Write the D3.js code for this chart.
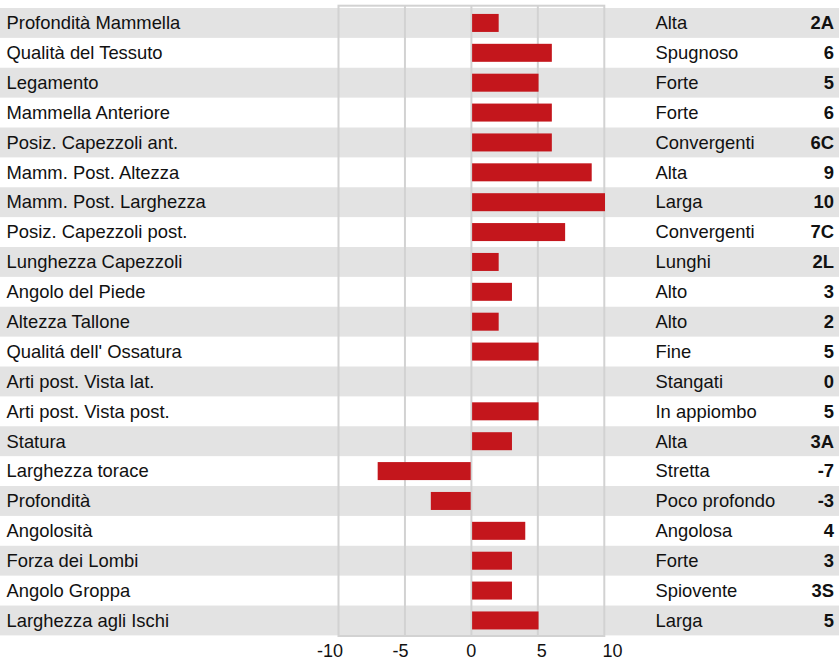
<!DOCTYPE html>
<html>
<head>
<meta charset="utf-8">
<script src="https://cdn.jsdelivr.net/npm/d3@7"></script>
<style>
  html, body { margin: 0; padding: 0; background: #fff; }
  svg { display: block; font-family: "Liberation Sans", Arial, Helvetica, sans-serif; }
</style>
</head>
<body>
<svg id="chart" width="839" height="660"></svg>
<script>
// Linear type traits: trait name, descriptor, displayed code and numeric score
const traits = [
  "Profondità Mammella", "Qualità del Tessuto", "Legamento", "Mammella Anteriore",
  "Posiz. Capezzoli ant.", "Mamm. Post. Altezza", "Mamm. Post. Larghezza",
  "Posiz. Capezzoli post.", "Lunghezza Capezzoli", "Angolo del Piede",
  "Altezza Tallone", "Qualitá dell' Ossatura", "Arti post. Vista lat.",
  "Arti post. Vista post.", "Statura", "Larghezza torace", "Profondità",
  "Angolosità", "Forza dei Lombi", "Angolo Groppa", "Larghezza agli Ischi"
];
const descriptors = [
  "Alta", "Spugnoso", "Forte", "Forte", "Convergenti", "Alta", "Larga",
  "Convergenti", "Lunghi", "Alto", "Alto", "Fine", "Stangati", "In appiombo",
  "Alta", "Stretta", "Poco profondo", "Angolosa", "Forte", "Spiovente", "Larga"
];
const codes = [
  "2A", "6", "5", "6", "6C", "9", "10", "7C", "2L", "3", "2", "5", "0", "5",
  "3A", "-7", "-3", "4", "3", "3S", "5"
];
const scores = [2, 6, 5, 6, 6, 9, 10, 7, 2, 3, 2, 5, 0, 5, 3, -7, -3, 4, 3, 3, 5];
const tickValues = [-10, -5, 0, 5, 10];

const svg = d3.select("#chart");
const W = 839;
const fontSize = 18.4;

const x = d3.scaleLinear().domain([-10, 10]).range([338.5, 604.3]);
// tick labels sit on a slightly wider spread than the grid
const xLabel = d3.scaleLinear().domain([-10, 10]).range([330, 612.5]);
const y = d3.scaleBand().domain(d3.range(traits.length)).range([8, 635.4]).paddingInner(0);
const rowH = y.bandwidth();
const barH = 18;

// alternating row stripes across the full width
svg.append("g").selectAll("rect")
  .data(d3.range(traits.length).filter(i => i % 2 === 0))
  .join("rect")
  .attr("x", 0).attr("width", W)
  .attr("y", i => y(i)).attr("height", rowH)
  .attr("fill", "#e3e3e3");

// vertical grid lines
svg.append("g").selectAll("line")
  .data([-5, 0, 5])
  .join("line")
  .attr("x1", d => x(d)).attr("x2", d => x(d))
  .attr("y1", 5.7).attr("y2", 636)
  .attr("stroke", "#d2d2d2").attr("stroke-width", 2);

// plot frame
svg.append("rect")
  .attr("x", x(-10)).attr("y", 5.7)
  .attr("width", x(10) - x(-10)).attr("height", 636 - 5.7)
  .attr("fill", "none").attr("stroke", "#d2d2d2").attr("stroke-width", 2);

// score bars
svg.append("g").selectAll("rect")
  .data(scores)
  .join("rect")
  .attr("x", d => Math.min(x(0), x(d)) + (d >= 0 ? 0.7 : -0.7))
  .attr("width", d => Math.abs(x(d) - x(0)))
  .attr("y", (d, i) => y(i) + (rowH - barH) / 2)
  .attr("height", barH)
  .attr("fill", "#c4161c");

const textColor = "#111";
const rowText = (i) => y(i) + rowH / 2 + 6.3;

// trait names
svg.append("g").selectAll("text")
  .data(traits)
  .join("text")
  .attr("x", 6.5)
  .attr("y", (d, i) => rowText(i))
  .attr("font-size", fontSize)
  .attr("fill", textColor)
  .text(d => d);

// descriptors
svg.append("g").selectAll("text")
  .data(descriptors)
  .join("text")
  .attr("x", 655.5)
  .attr("y", (d, i) => rowText(i))
  .attr("font-size", fontSize)
  .attr("fill", textColor)
  .text(d => d);

// codes
svg.append("g").selectAll("text")
  .data(codes)
  .join("text")
  .attr("x", 834)
  .attr("y", (d, i) => rowText(i))
  .attr("text-anchor", "end")
  .attr("font-size", fontSize)
  .attr("font-weight", "bold")
  .attr("fill", textColor)
  .text(d => d);

// axis tick labels
svg.append("g").selectAll("text")
  .data(tickValues)
  .join("text")
  .attr("x", d => xLabel(d))
  .attr("y", 656.5)
  .attr("text-anchor", "middle")
  .attr("font-size", 18)
  .attr("fill", textColor)
  .text(d => d);
</script>
</body>
</html>
